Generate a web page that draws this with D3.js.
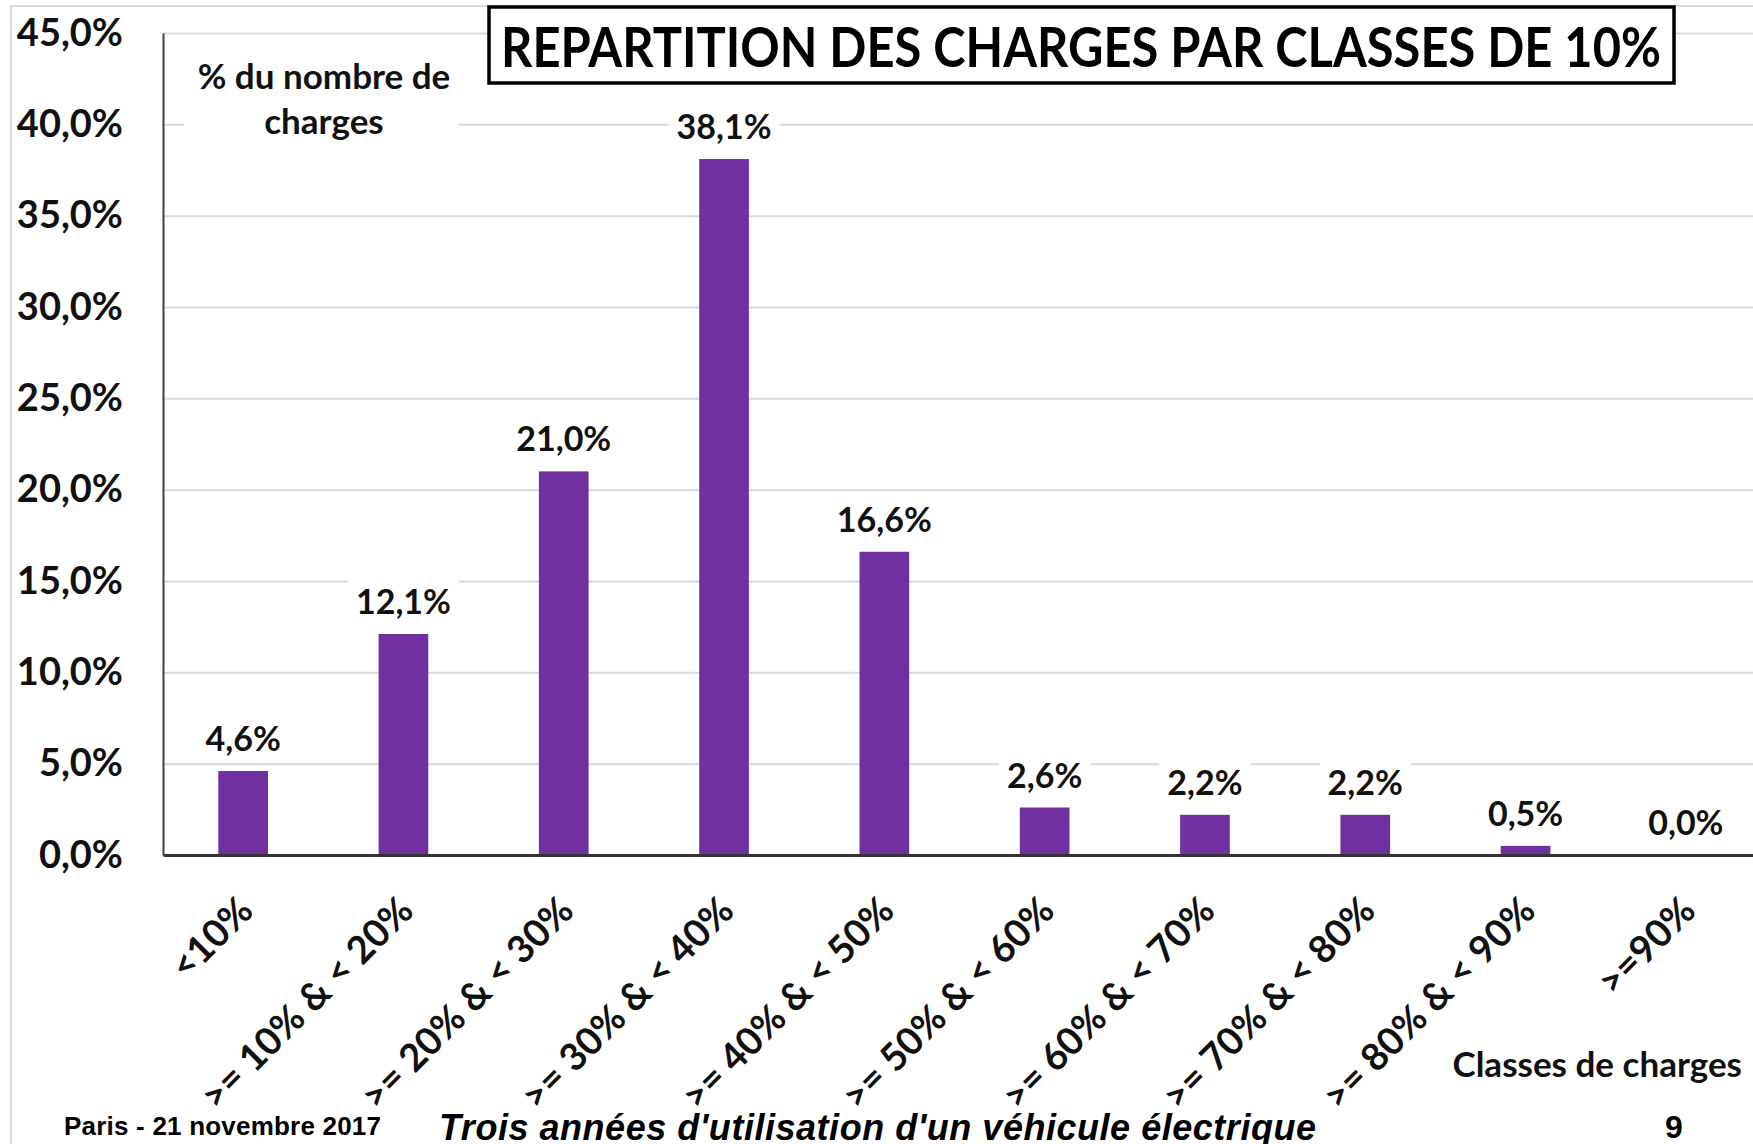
<!DOCTYPE html>
<html>
<head>
<meta charset="utf-8">
<script src="https://cdn.jsdelivr.net/npm/d3@7"></script>
<style>
  body { margin: 0; background: #fff; }
  svg { display: block; }
</style>
</head>
<body>
<svg></svg>
<script>
const categories = ['<10%', '>= 10% & < 20%', '>= 20% & < 30%', '>= 30% & < 40%', '>= 40% & < 50%',
                    '>= 50% & < 60%', '>= 60% & < 70%', '>= 70% & < 80%', '>= 80% & < 90%', '>=90%']
const values = [4.6, 12.1, 21.0, 38.1, 16.6, 2.6, 2.2, 2.2, 0.5, 0.0]
const yTickValues = [0, 5, 10, 15, 20, 25, 30, 35, 40, 45]

const title = 'REPARTITION DES CHARGES PAR CLASSES DE 10%'
const yTitle = ['% du nombre de', 'charges']
const xTitle = 'Classes de charges'
const footerLeft = 'Paris - 21 novembre 2017'
const footerMid = "Trois années d'utilisation d'un véhicule électrique"
const footerRight = '9'

const drawChart = () => {
  const width = 1753
  const height = 1144
  const plotLeft = 163
  const plotBottom = 855
  const plotTop = 33
  const step = 160.3
  const calibri = 'Lato, Carlito, Calibri, sans-serif'
  const arial = '"Liberation Sans", Arial, sans-serif'
  const fmt = d => d3.format('.1f')(d).replace('.', ',') + '%'

  const svg = d3.select('svg')
                .attr('width', width)
                .attr('height', height)

  // light frame of the chart area
  svg.append('rect')
     .attr('x', 11).attr('y', 6)
     .attr('width', width + 20).attr('height', height + 20)
     .attr('fill', 'none')
     .attr('stroke', '#d9d9d9')
     .attr('stroke-width', 2)

  const xScale = d3.scaleBand()
                   .domain(categories)
                   .range([plotLeft, plotLeft + step * categories.length])
                   .paddingInner(0.69)
                   .paddingOuter(0.345)
  const yScale = d3.scaleLinear()
                   .domain([0, 45])
                   .range([plotBottom, plotTop])

  // gridlines
  svg.append('g')
     .attr('class', 'grid')
     .attr('transform', `translate(${plotLeft}, 0)`)
     .call(d3.axisLeft(yScale).tickValues(yTickValues.filter(d => d > 0)).tickSize(-(width - plotLeft)).tickFormat(''))
     .call(g => g.select('.domain').remove())
     .call(g => g.selectAll('line').attr('stroke', '#d9d9d9').attr('stroke-width', 2))

  // y title with white background
  const yTitleG = svg.append('g')
  yTitleG.append('rect')
         .attr('x', 184).attr('y', 52).attr('width', 274).attr('height', 96)
         .attr('fill', '#fff')
  yTitleG.selectAll('text')
         .data(yTitle)
         .join('text')
         .text(d => d)
         .attr('x', 324)
         .attr('y', (d, i) => 89 + i * 45)
         .attr('text-anchor', 'middle')
         .style('font-family', calibri)
         .style('font-weight', 700)
         .style('font-size', '35px')
         .attr('fill', '#111')

  // bars
  svg.append('g')
     .selectAll('rect.bar')
     .data(values)
     .join('rect')
     .classed('bar', true)
     .attr('x', (d, i) => xScale(categories[i]))
     .attr('y', d => yScale(d))
     .attr('width', xScale.bandwidth())
     .attr('height', d => yScale(0) - yScale(d))
     .attr('fill', '#7030a0')

  // data labels
  const labels = svg.append('g')
                    .selectAll('g.label')
                    .data(values)
                    .join('g')
                    .classed('label', true)
  labels.append('text')
        .text(d => fmt(d))
        .attr('x', (d, i) => xScale(categories[i]) + xScale.bandwidth() / 2)
        .attr('y', d => yScale(d) - 20)
        .attr('text-anchor', 'middle')
        .style('font-family', calibri)
        .style('font-weight', 700)
        .style('font-size', '34px')
        .attr('fill', '#111')
  labels.each(function() {
    const t = d3.select(this).select('text')
    const b = t.node().getBBox()
    d3.select(this).insert('rect', 'text')
      .attr('x', b.x - 8).attr('y', b.y - 4)
      .attr('width', b.width + 16).attr('height', b.height + 8)
      .attr('fill', '#fff')
  })

  // y axis
  svg.append('g')
     .attr('transform', `translate(${plotLeft}, 0)`)
     .call(d3.axisLeft(yScale).tickValues(yTickValues).tickSize(0).tickPadding(40).tickFormat(fmt))
     .call(g => g.select('.domain').attr('stroke', '#404040').attr('stroke-width', 2))
     .call(g => g.selectAll('text')
                 .style('font-family', calibri)
                 .style('font-weight', 700)
                 .style('font-size', '38px')
                 .attr('fill', '#111'))

  // x axis
  svg.append('g')
     .attr('transform', `translate(0, ${plotBottom})`)
     .call(d3.axisBottom(xScale).tickSize(0))
     .call(g => g.select('.domain').attr('stroke', '#333').attr('stroke-width', 3))
     .call(g => g.selectAll('text')
                 .attr('x', 0).attr('y', 0).attr('dy', 0)
                 .attr('text-anchor', 'end')
                 .attr('transform', 'translate(12, 58) rotate(-45)')
                 .style('font-family', calibri)
                 .style('font-weight', 700)
                 .style('font-size', '38px')
                 .attr('fill', '#111'))

  svg.append('text')
     .text(xTitle)
     .attr('x', 1742)
     .attr('y', 1077)
     .attr('text-anchor', 'end')
     .style('font-family', calibri)
     .style('font-weight', 700)
     .style('font-size', '35px')
     .attr('fill', '#111')

  // title box
  svg.append('rect')
     .attr('x', 489).attr('y', 7)
     .attr('width', 1185).attr('height', 76)
     .attr('fill', '#fff')
     .attr('stroke', '#000')
     .attr('stroke-width', 3.5)
  svg.append('text')
     .text(title)
     .attr('x', 1081)
     .attr('y', 67)
     .attr('text-anchor', 'middle')
     .attr('textLength', 1160)
     .attr('lengthAdjust', 'spacingAndGlyphs')
     .style('font-family', calibri)
     .style('font-weight', 700)
     .style('font-size', '56px')
     .attr('fill', '#000')

  // footer
  svg.append('text')
     .text(footerLeft)
     .attr('x', 64).attr('y', 1135)
     .attr('textLength', 317)
     .style('font-family', arial)
     .style('font-weight', 700)
     .style('font-size', '26px')
  svg.append('text')
     .text(footerMid)
     .attr('x', 439).attr('y', 1140)
     .attr('textLength', 877)
     .style('font-family', arial)
     .style('font-weight', 700)
     .style('font-style', 'italic')
     .style('font-size', '36px')
  svg.append('text')
     .text(footerRight)
     .attr('x', 1674).attr('y', 1138)
     .attr('text-anchor', 'middle')
     .style('font-family', arial)
     .style('font-weight', 700)
     .style('font-size', '32px')
}

drawChart()
</script>
</body>
</html>
